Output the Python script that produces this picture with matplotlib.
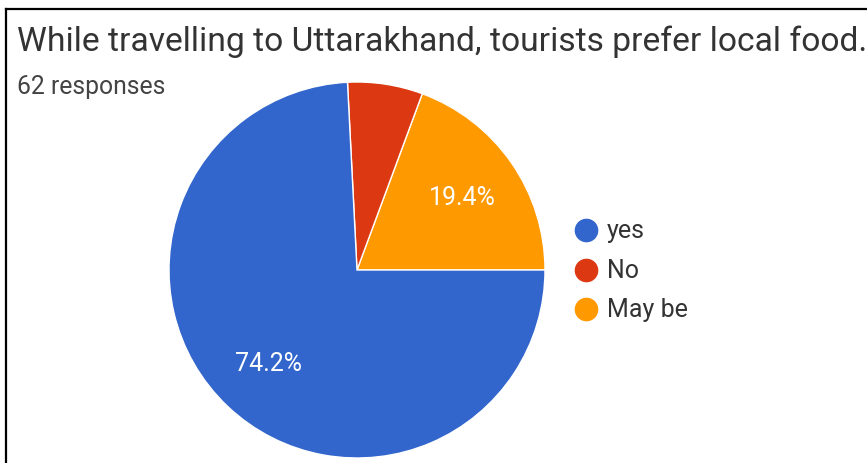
import matplotlib
matplotlib.use("Agg")
import matplotlib.pyplot as plt
from matplotlib.lines import Line2D

W, H = 867, 464
DPI = 100

title = "While travelling to Uttarakhand, tourists prefer local food."
subtitle = "62 responses"

# Slices drawn counter-clockwise from 3 o'clock
slice_labels = ["May be", "No", "yes"]
slice_counts = [12, 4, 46]
slice_colors = ["#FF9900", "#DC3912", "#3366CC"]

legend_labels = ["yes", "No", "May be"]
legend_colors = ["#3366CC", "#DC3912", "#FF9900"]

plt.rcParams["font.family"] = ["Roboto", "DejaVu Sans"]

fig = plt.figure(figsize=(W / DPI, H / DPI), dpi=DPI)
fig.patch.set_facecolor("white")


def fx(px):
    return px / W


def fy(py):
    return 1 - py / H


# frame lines along top and left
fig.add_artist(Line2D([fx(6), fx(W)], [fy(10), fy(10)], color="black", lw=1.6))
fig.add_artist(Line2D([fx(6), fx(6)], [fy(10), fy(H)], color="black", lw=1.6))

fig.text(fx(17), fy(51), title, fontsize=24.2, color="#333333", va="baseline", ha="left")
fig.text(fx(17), fy(94), subtitle, fontsize=17.8, color="#444444", va="baseline", ha="left")

cx, cy, r = 357, 271, 188
ax = fig.add_axes([fx(cx - r), fy(cy + r), (2 * r) / W, (2 * r) / H])


def pct(v):
    return f"{v:.1f}%" if v > 10 else ""


wedges, texts, autotexts = ax.pie(
    slice_counts,
    colors=slice_colors,
    startangle=0,
    counterclock=True,
    autopct=pct,
    pctdistance=0.68,
    wedgeprops=dict(edgecolor="white", linewidth=1),
    textprops=dict(color="white", fontsize=18),
)
ax.set_xlim(-1, 1)
ax.set_ylim(-1, 1)
ax.set_aspect("equal")
ax.axis("off")

for i, (lab, col) in enumerate(zip(legend_labels, legend_colors)):
    y = 231 + i * 39.5
    fig.add_artist(Line2D([fx(586)], [fy(y)], marker="o", markersize=16,
                          markerfacecolor=col, markeredgecolor=col, linestyle="none"))
    fig.text(fx(607), fy(y), lab, fontsize=18, color="#333333", va="center", ha="left")

fig.savefig("out.png", dpi=DPI)
